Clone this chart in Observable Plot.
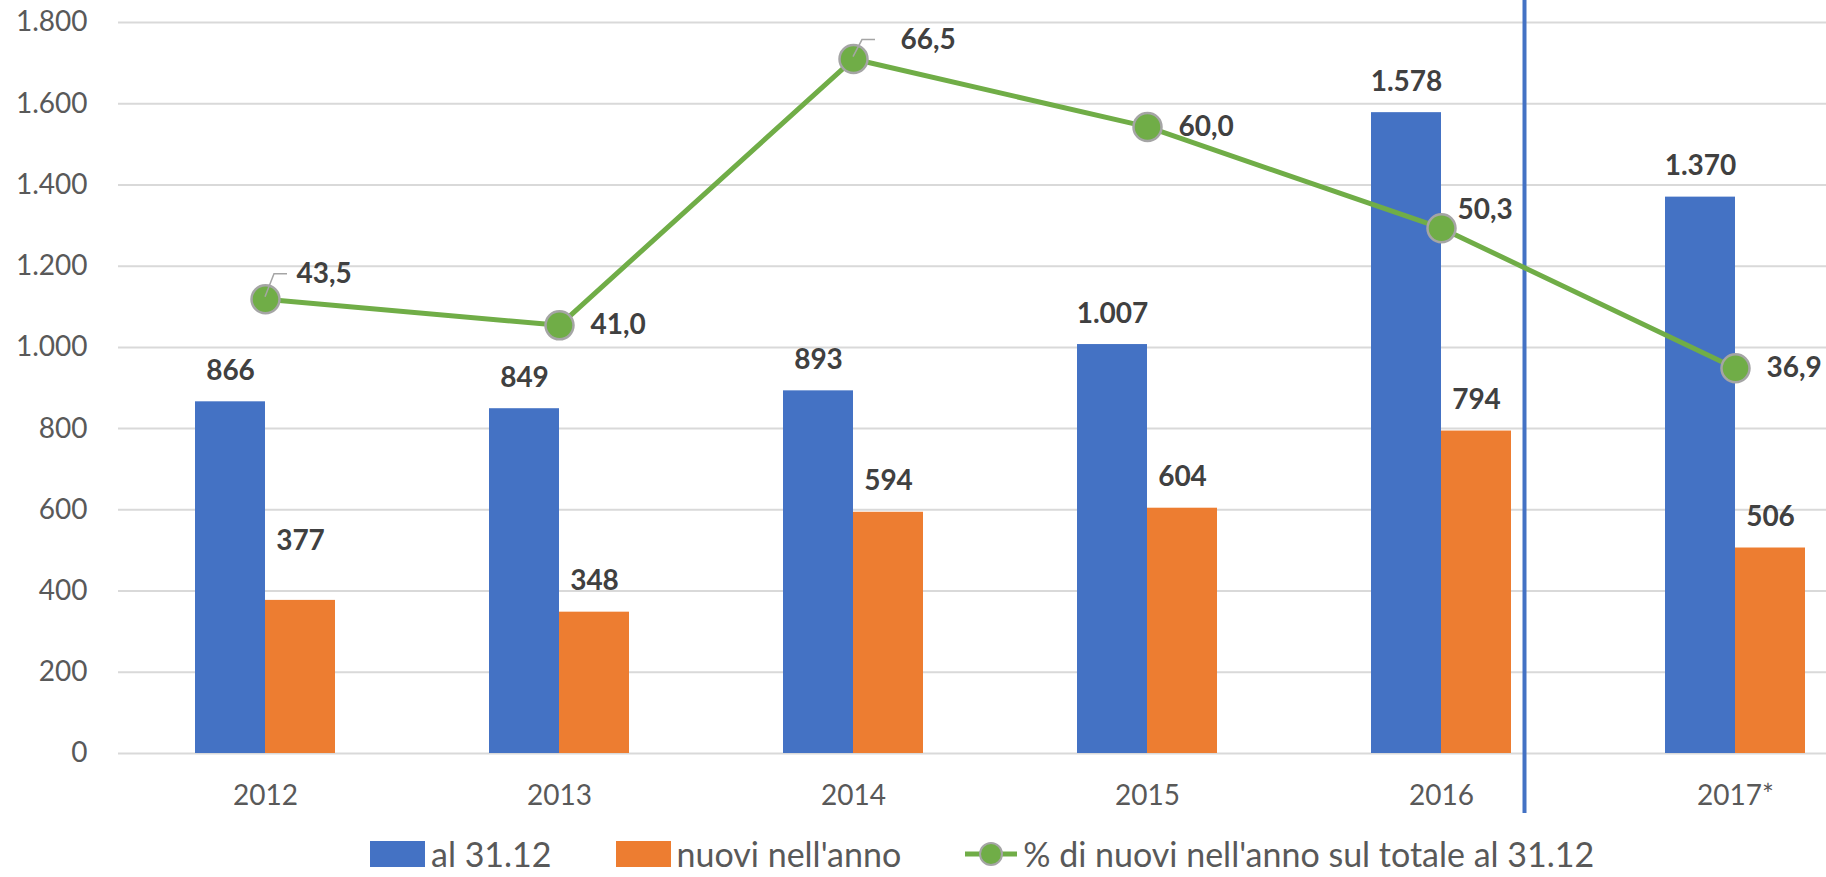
<!DOCTYPE html>
<html><head><meta charset="utf-8">
<script src="https://cdn.jsdelivr.net/npm/d3@7"></script>
<script src="https://cdn.jsdelivr.net/npm/@observablehq/plot@0.6"></script>
<style>
body{margin:0;background:#fff;font-family:Lato,sans-serif;}
#legend{display:flex;align-items:center;height:47px;padding-left:370px;font-size:34px;color:#595959;}
.item{display:flex;align-items:center;margin-right:64px;white-space:nowrap;}
.sw{width:55px;height:26px;margin-right:6px;}
.ln{margin-right:6px;}
</style></head><body>
<div id="chart"></div>
<div id="legend"></div>
<script>
const years = ["2012", "2013", "2014", "2015", "2016", "2017*"];
const totale = [866, 849, 893, 1007, 1578, 1370];
const nuovi = [377, 348, 594, 604, 794, 506];
const percentuale = [43.5, 41.0, 66.5, 60.0, 50.3, 36.9];
const yTicks = [0, 200, 400, 600, 800, 1000, 1200, 1400, 1600, 1800];
const seriesNames = ["al 31.12", "nuovi nell'anno", "% di nuovi nell'anno sul totale al 31.12"];
const colors = ["#4472C4", "#ED7D31", "#70AD47"];
const yMax = 1800;   // primary axis max
const pctMax = 70;   // hidden secondary axis max

const data = years.map((year, i) => ({
  year, totale: totale[i], nuovi: nuovi[i], pct: percentuale[i],
  pctY: percentuale[i] * yMax / pctMax
}));

const fmtInt = d => d3.format(",")(d).replace(/,/g, ".");
const fmtPct = d => d3.format(".1f")(d).replace(".", ",");

const labelFont = {fontSize: 28, fontWeight: "bold", fill: "#404040"};
const pctText = {x: "year", y: "pctY", text: d => fmtPct(d.pct), textAnchor: "start", ...labelFont};
const only = (...ys) => data.filter(d => ys.includes(d.year));

const chart = Plot.plot({
  width: 1826, height: 830,
  marginLeft: 118, marginRight: 0, marginTop: 22, marginBottom: 77,
  style: {fontFamily: "Lato, sans-serif", background: "white", color: "#595959", overflow: "visible"},
  x: {domain: years, range: [118, 1882], paddingInner: 0.5238, paddingOuter: 0.2619, label: null},
  y: {domain: [0, yMax], label: null},
  marks: [
    Plot.ruleY(yTicks, {stroke: "#D9D9D9", strokeWidth: 2}),
    Plot.axisY(yTicks, {tickSize: 0, tickPadding: 31, fontSize: 28, tickFormat: fmtInt, label: null}),
    Plot.axisX({tickSize: 0, tickPadding: 32, fontSize: 28, label: null}),
    Plot.barY(data, {x: "year", y: "totale", fill: colors[0], insetRight: 70}),
    Plot.barY(data, {x: "year", y: "nuovi", fill: colors[1], insetLeft: 70}),
    Plot.text(data, {x: "year", y: "totale", text: d => fmtInt(d.totale), dx: -35, dy: -31, ...labelFont}),
    Plot.text(data.filter(d => d.year !== "2012"), {x: "year", y: "nuovi", text: d => fmtInt(d.nuovi), dx: 35, dy: -31, ...labelFont}),
    Plot.text(only("2012"), {x: "year", y: "nuovi", text: d => fmtInt(d.nuovi), dx: 35, dy: -59, ...labelFont}),
    Plot.ruleX(["2016"], {x: d => d, dx: 83, stroke: colors[0], strokeWidth: 4, insetTop: -22, insetBottom: -60}),
    Plot.line(data, {x: "year", y: "pctY", stroke: colors[2], strokeWidth: 5}),
    Plot.dot(data, {x: "year", y: "pctY", r: 14, fill: colors[2], stroke: "#A5A5A5", strokeWidth: 2.5}),
    Plot.text(only("2012"), {...pctText, dx: 31, dy: -25}),
    Plot.text(only("2014"), {...pctText, dx: 47, dy: -19}),
    Plot.text(only("2016"), {...pctText, dx: 16, dy: -18}),
    Plot.text(only("2013", "2015", "2017*"), {...pctText, dx: 31, dy: 0})
  ]
});
document.getElementById("chart").appendChild(chart);

// leader lines for the displaced line labels
const sx = chart.scale("x"), sy = chart.scale("y");
const svg = d3.select(chart.tagName === "svg" ? chart : chart.querySelector("svg"));
const leaders = {"2012": 25, "2014": 19};
only("2012", "2014").forEach(d => {
  const cx = sx.apply(d.year) + (sx.bandwidth || 0) / 2;
  const cy = sy.apply(d.pctY);
  const h = leaders[d.year];
  svg.append("path")
    .attr("d", `M${cx},${cy - 2}L${cx + 9},${cy - h}L${cx + 22},${cy - h}`)
    .attr("fill", "none").attr("stroke", "#A5A5A5").attr("stroke-width", 1.5);
});

// legend
const legend = document.getElementById("legend");
seriesNames.forEach((name, i) => {
  const item = document.createElement("div");
  item.className = "item";
  if (i < 2) {
    item.innerHTML = `<div class="sw" style="background:${colors[i]}"></div><span>${name}</span>`;
  } else {
    item.innerHTML = `<svg class="ln" width="52" height="30"><line x1="0" y1="15" x2="52" y2="15" stroke="${colors[2]}" stroke-width="5"/><circle cx="26" cy="15" r="11" fill="${colors[2]}" stroke="#A5A5A5" stroke-width="2"/></svg><span>${name}</span>`;
  }
  legend.appendChild(item);
});
</script>
</body></html>
